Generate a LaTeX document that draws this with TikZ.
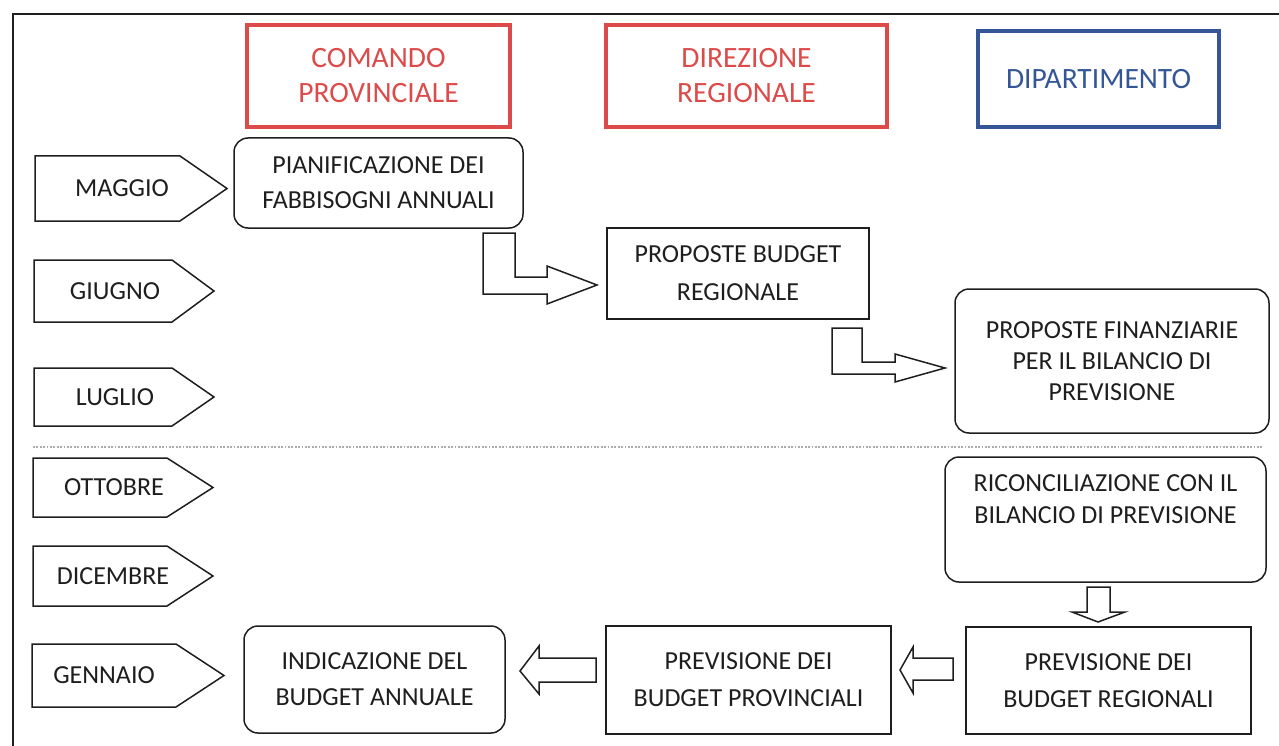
\documentclass[tikz,border=0pt]{standalone}
\usepackage{fontspec}
\setmainfont{Carlito}

\definecolor{hdrred}{RGB}{220,74,74}
\definecolor{hdrblue}{RGB}{52,86,150}
\definecolor{ink}{RGB}{30,30,30}

\tikzset{
  hdr/.style={draw, line width=3.5pt, align=center, inner sep=0pt,
    font=\fontsize{29.5}{35}\selectfont},
  stepbox/.style={draw=ink, line width=1.5pt, align=center, text=ink, inner sep=0pt,
    font=\fontsize{26}{35}\selectfont},
  roundbox/.style={stepbox, rounded corners=14pt},
  month/.style={draw=ink, line width=1.5pt},
  monthtext/.style={text=ink, inner sep=0pt, font=\fontsize{26}{35}\selectfont},
  blockarrow/.style={draw=ink, line width=1.5pt, fill=white, line join=miter},
}

\begin{document}
\begin{tikzpicture}[x=1pt,y=-1pt]
    \useasboundingbox (0,0) rectangle (1279,746);
    % Frame (cut off at the right and at the bottom)
    \draw[ink, line width=1.6pt] (13,746) -- (13,14) -- (1279,14);

    % Column headers
    \node[hdr, draw=hdrred, text=hdrred, minimum width=263pt, minimum height=102pt] (cmd) at (378.5,76) {COMANDO\\PROVINCIALE};
    \node[hdr, draw=hdrred, text=hdrred, minimum width=281pt, minimum height=102pt] (dir) at (746.5,76) {DIREZIONE\\REGIONALE};
    \node[hdr, draw=hdrblue, text=hdrblue, minimum width=241pt, minimum height=96pt] (dip) at (1098.5,79) {DIPARTIMENTO};

    % Months
    \foreach \nm/\txt/\xl/\xr/\xp/\ya/\yb/\xt in {
        may/MAGGIO/35/180/227/156/221/122,
        jun/GIUGNO/34/172/214/260/322/115,
        jul/LUGLIO/34/172/214/368/426/115,
        oct/OTTOBRE/33/167/213/458/517/114,
        dec/DICEMBRE/33/167/213/546/606/113,
        jan/GENNAIO/32/176/224/644/707/104} {
        \draw[month] (\xl,\ya) -- (\xr,\ya) -- (\xp,{(\ya+\yb)/2}) -- (\xr,\yb) -- (\xl,\yb) -- cycle;
        \node[monthtext] (\nm) at (\xt,{(\ya+\yb)/2}) {\txt};
    }

    % Split between the two periods
    \draw[gray!65, line width=2.5pt, dash pattern=on 1.8pt off 1.6pt] (33,447) -- (1263,447);

    % Steps
    \node[roundbox, minimum width=289pt, minimum height=90pt] (plan) at (378.5,183) {PIANIFICAZIONE DEI\\FABBISOGNI ANNUALI};
    \node[stepbox, minimum width=262pt, minimum height=91pt, font=\fontsize{26}{38}\selectfont] (propreg) at (738,273.5) {PROPOSTE BUDGET\\REGIONALE};
    \node[roundbox, minimum width=314pt, minimum height=144pt, font=\fontsize{26}{31}\selectfont] (propfin) at (1112,361) {PROPOSTE FINANZIARIE\\PER IL BILANCIO DI\\PREVISIONE};
    \node[roundbox, minimum width=321pt, minimum height=125pt, font=\fontsize{26}{32}\selectfont] (recon) at (1105.5,519.5) {RICONCILIAZIONE CON IL\\BILANCIO DI PREVISIONE\\\strut};
    \node[stepbox, minimum width=285pt, minimum height=107pt, font=\fontsize{26}{37}\selectfont] (prevreg) at (1108.5,680.5) {PREVISIONE DEI\\BUDGET REGIONALI};
    \node[stepbox, minimum width=285pt, minimum height=108pt, font=\fontsize{26}{37}\selectfont] (prevprov) at (748.5,680) {PREVISIONE DEI\\BUDGET PROVINCIALI};
    \node[roundbox, minimum width=261pt, minimum height=107pt, font=\fontsize{26}{36}\selectfont] (annual) at (374.5,679.5) {INDICAZIONE DEL\\BUDGET ANNUALE};

    % Block arrows between the steps
    \draw[blockarrow] (483,233) -- (515,233) -- (515,277) -- (547,277) -- (547,266) -- (597,285)
        -- (547,304) -- (547,294) -- (483,294) -- cycle;
    \draw[blockarrow] (832,328) -- (862,328) -- (862,362) -- (895,362) -- (895,354) -- (945,368)
        -- (895,382) -- (895,374) -- (832,374) -- cycle;
    \draw[blockarrow] (1087,587) -- (1110,587) -- (1110,612) -- (1125,612) -- (1098,622)
        -- (1072,612) -- (1087,612) -- cycle;
    \draw[blockarrow] (953,658) -- (953,680) -- (913,680) -- (913,693) -- (900,670)
        -- (913,647) -- (913,658) -- cycle;
    \draw[blockarrow] (596,658) -- (596,682) -- (539,682) -- (539,694) -- (520,671)
        -- (539,646) -- (539,658) -- cycle;
\end{tikzpicture}
\end{document}
